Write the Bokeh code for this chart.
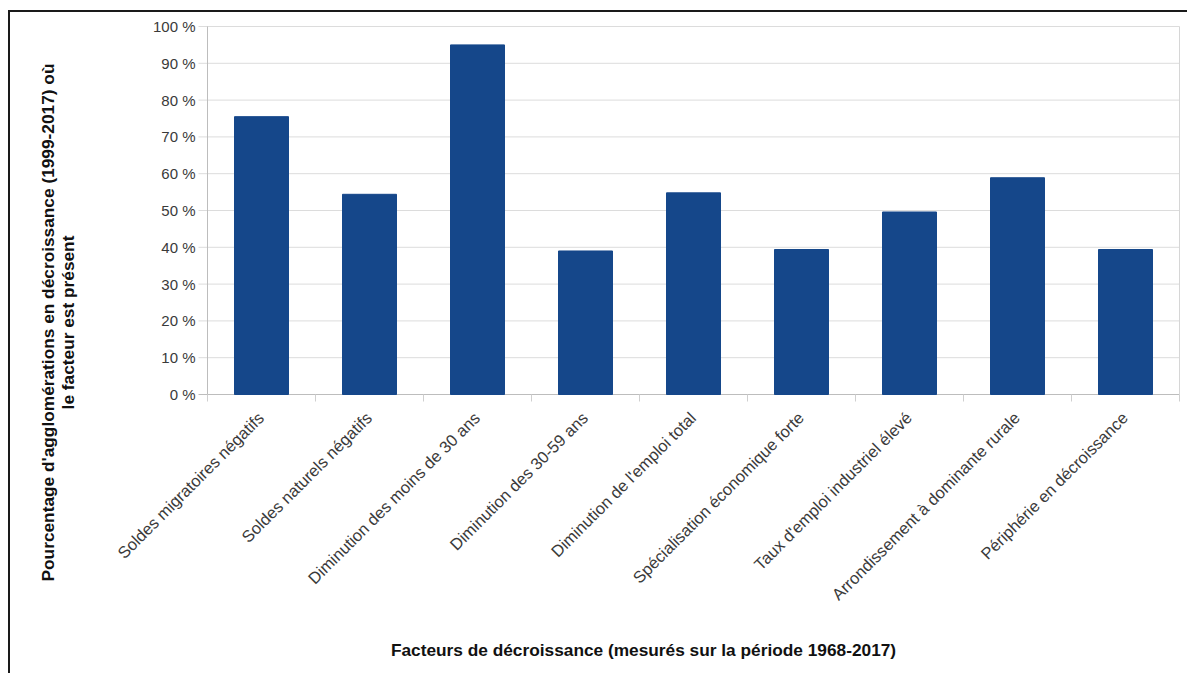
from math import pi
from bokeh.plotting import figure
from bokeh.models import Range1d, Label
from bokeh.embed import file_html
from bokeh.resources import INLINE

categories = [
    "Soldes migratoires négatifs",
    "Soldes naturels négatifs",
    "Diminution des moins de 30 ans",
    "Diminution des 30-59 ans",
    "Diminution de l'emploi total",
    "Spécialisation économique forte",
    "Taux d'emploi industriel élevé",
    "Arrondissement à dominante rurale",
    "Périphérie en décroissance",
]
values = [75.5, 54.4, 95.0, 39.0, 54.8, 39.4, 49.6, 58.9, 39.4]
y_ticks = [0, 10, 20, 30, 40, 50, 60, 70, 80, 90, 100]
y_tick_labels = ["0 %", "10 %", "20 %", "30 %", "40 %", "50 %", "60 %",
                 "70 %", "80 %", "90 %", "100 %"]
y_title_1 = "Pourcentage d'agglomérations en décroissance (1999-2017) où"
y_title_2 = "le facteur est présent"
x_title = "Facteurs de décroissance (mesurés sur la période 1968-2017)"

FONT = "Liberation Sans"
n = len(categories)
centers = [i + 0.5 for i in range(n)]
edges = list(range(n + 1))
y_min, y_max = y_ticks[0], y_ticks[-1]

# layout (pixels): canvas 1179 x 663, plot area 972 x 368
W, H = 1179, 663
PX_X = 108.0      # pixels per category
PX_Y = 3.68       # pixels per percent
LEFT, RIGHT, TOP, BOTTOM = 197, 10, 14, 281

p = figure(x_range=Range1d(-LEFT / PX_X, n + RIGHT / PX_X),
           y_range=Range1d(-BOTTOM / PX_Y, y_max + TOP / PX_Y),
           width=W, height=H,
           x_axis_location=None, y_axis_location=None,
           toolbar_location=None, output_backend="svg",
           min_border=0, min_border_left=0, min_border_right=0,
           min_border_top=0, min_border_bottom=0)
p.outline_line_color = None
for g in list(p.grid):
    g.visible = False
p.styles = {"margin-left": "8px", "margin-top": "10px",
            "border-top": "2px solid #1a1a1a", "border-left": "2px solid #1a1a1a"}

tick_ext_x = 9 / PX_X
tick_ext_y = 7 / PX_Y

# horizontal gridlines (with outside tick extension)
grid_y = y_ticks[1:]
p.segment(x0=[-tick_ext_x] * len(grid_y), x1=[n] * len(grid_y),
          y0=grid_y, y1=grid_y, line_color="#dcdcdc", line_width=1)
# baseline
p.segment(x0=[-tick_ext_x], x1=[n], y0=[y_min], y1=[y_min],
          line_color="#bdbdbd", line_width=1)
# left axis rule and right frame rule
p.segment(x0=[0, n], x1=[0, n], y0=[y_min, y_min], y1=[y_max, y_max],
          line_color=["#bdbdbd", "#d6d6d6"], line_width=1)
# category boundary ticks
p.segment(x0=edges, x1=edges, y0=[-tick_ext_y] * len(edges),
          y1=[y_min] * len(edges), line_color="#cfcfcf", line_width=1)

# bars
p.vbar(x=centers, top=values, width=0.5, bottom=0,
       fill_color="#15478a", line_color="#15478a")

# y tick labels
p.text(x=[0] * len(y_ticks), y=y_ticks, text=y_tick_labels,
       x_offset=-12, text_align="right", text_baseline="middle",
       text_font={"value": FONT}, text_font_size="15px",
       text_color="#3a3a3a")

# rotated category labels
p.text(x=centers, y=[0] * n, text=categories,
       x_offset=-7, y_offset=14, angle=pi / 4,
       text_align="right", text_baseline="top",
       text_font={"value": FONT}, text_font_size="16.5px",
       text_color="#3a3a3a")

# axis titles (screen units: from plot's left / bottom edge)
for txt, xx in ((y_title_1, 37), (y_title_2, 57)):
    p.add_layout(Label(x=xx, y=353, x_units="screen", y_units="screen",
                       text=txt, angle=pi / 2, text_align="center",
                       text_baseline="middle", text_font=FONT,
                       text_font_size="17.3px", text_font_style="bold",
                       text_color="#111111"))

p.add_layout(Label(x=633, y=26, x_units="screen", y_units="screen",
                   text=x_title, text_align="center", text_baseline="middle",
                   text_font=FONT, text_font_size="17.3px",
                   text_font_style="bold", text_color="#111111"))

open("out.html", "w").write(file_html(p, INLINE))
